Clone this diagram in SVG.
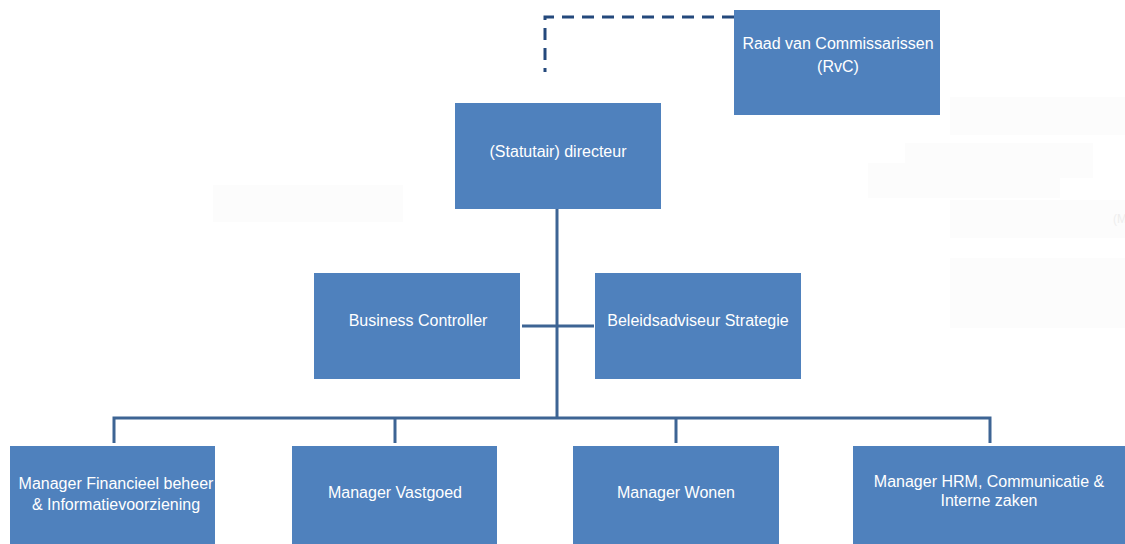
<svg xmlns="http://www.w3.org/2000/svg" width="1125" height="544" viewBox="0 0 1125 544">
<style>
.box{fill:#4f81bd;}
.t{font-family:"Liberation Sans",Arial,sans-serif;font-size:16px;fill:#ffffff;text-anchor:middle;}
.ln{stroke:#3d6494;stroke-width:3;fill:none;}
.dash{stroke:#24497c;stroke-width:3;fill:none;stroke-dasharray:12 8;}
.ghost{fill:#fcfcfc;}
</style>
<rect width="1125" height="544" fill="#ffffff"/>
<g id="ghosts">
<rect class="ghost" x="213" y="185" width="190" height="37"/>
<rect class="ghost" x="950" y="97" width="175" height="38"/>
<rect class="ghost" x="905" y="143" width="188" height="35"/>
<rect class="ghost" x="868" y="163" width="192" height="35"/>
<rect class="ghost" x="950" y="200" width="175" height="38"/>
<rect class="ghost" x="950" y="258" width="175" height="70"/>
<text x="1113" y="223" style="font-family:'Liberation Sans',Arial,sans-serif;font-size:12px;fill:#eeeeee">(M</text>
</g>
<g id="connectors">
<polyline class="dash" points="734,17 545,17 545,72"/>
<line class="ln" x1="557" y1="209" x2="557" y2="418"/>
<line class="ln" x1="522" y1="326" x2="594" y2="326"/>
<polyline class="ln" points="114,443 114,418 990,418 990,443"/>
<line class="ln" x1="395" y1="418" x2="395" y2="443"/>
<line class="ln" x1="676" y1="418" x2="676" y2="443"/>
</g>
<g id="rvc"><rect class="box" x="734" y="10" width="206" height="105"/>
<text class="t" x="838" y="49">Raad van Commissarissen</text><text class="t" x="838" y="72">(RvC)</text></g>
<g id="directeur"><rect class="box" x="455" y="103" width="206" height="106"/>
<text class="t" x="558" y="157">(Statutair) directeur</text></g>
<g id="businesscontroller"><rect class="box" x="314" y="273" width="206" height="106"/>
<text class="t" x="418" y="326">Business Controller</text></g>
<g id="beleidsadviseur"><rect class="box" x="595" y="273" width="206" height="106"/>
<text class="t" x="698" y="326">Beleidsadviseur Strategie</text></g>
<g id="financieel"><rect class="box" x="10" y="446" width="205" height="98"/>
<text class="t" x="116" y="489">Manager Financieel beheer</text><text class="t" x="116" y="510">&amp; Informatievoorziening</text></g>
<g id="vastgoed"><rect class="box" x="292" y="446" width="205" height="98"/>
<text class="t" x="395" y="498">Manager Vastgoed</text></g>
<g id="wonen"><rect class="box" x="573" y="446" width="206" height="98"/>
<text class="t" x="676" y="498">Manager Wonen</text></g>
<g id="hrm"><rect class="box" x="853" y="446" width="272" height="98"/>
<text class="t" x="989" y="487">Manager HRM, Communicatie &amp;</text><text class="t" x="989" y="506">Interne zaken</text></g>
</svg>
